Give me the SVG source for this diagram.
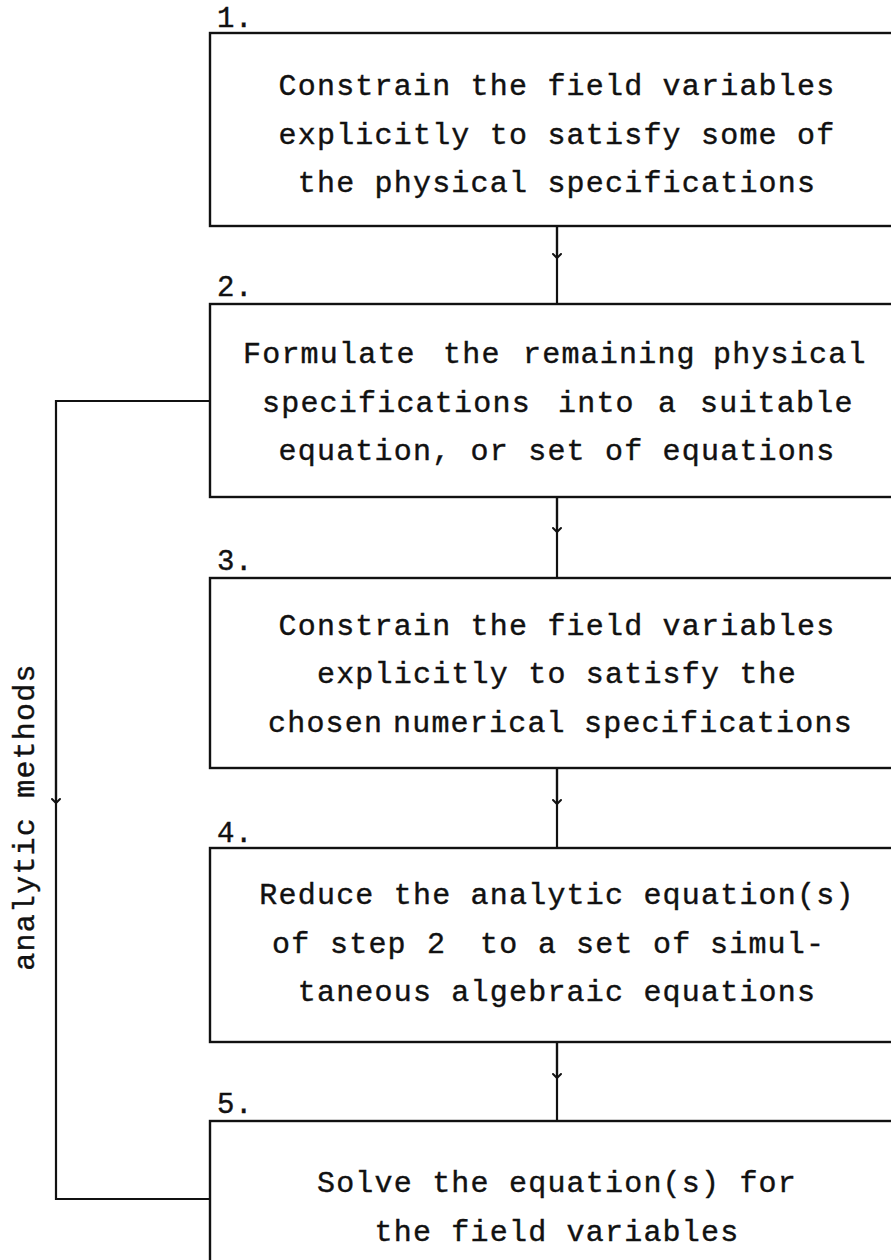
<svg xmlns="http://www.w3.org/2000/svg" width="891" height="1260" viewBox="0 0 891 1260">
  <defs>
    <style>
      .box { fill: none; stroke: #111; stroke-width: 2.4; }
      .wire { fill: none; stroke: #111; stroke-width: 2.2; }
      .tip { fill: none; stroke: #111; stroke-width: 2; stroke-linecap: round; stroke-linejoin: round; }
      .t { font-family: "Liberation Mono", "Courier New", monospace; font-size: 30px; letter-spacing: 1.2px; fill: #111; stroke: #111; stroke-width: 0.4; }
      .c { text-anchor: middle; }
      .num { font-family: "Liberation Mono", "Courier New", monospace; font-size: 29px; letter-spacing: 0.5px; fill: #111; stroke: #111; stroke-width: 0.4; }
    </style>
    <marker id="chev" viewBox="-6 -6 12 12" markerWidth="12" markerHeight="12" markerUnits="userSpaceOnUse" orient="auto">
      <path class="tip" d="M-4,-4 L0,0 L-4,4"/>
    </marker>
  </defs>
  <rect width="891" height="1260" fill="#fff"/>

  <!-- connectors -->
  <g id="connectors">
    <path class="wire" d="M557,226 V304" />
    <path class="wire" d="M557,226 V258" marker-end="url(#chev)"/>
    <path class="wire" d="M557,497 V578" />
    <path class="wire" d="M557,497 V532" marker-end="url(#chev)"/>
    <path class="wire" d="M557,768 V848" />
    <path class="wire" d="M557,768 V804" marker-end="url(#chev)"/>
    <path class="wire" d="M557,1042 V1121" />
    <path class="wire" d="M557,1042 V1078" marker-end="url(#chev)"/>
    <!-- bypass loop: step 2 straight to step 5 -->
    <path class="wire" d="M210,401 H56 V1199 H210" />
    <path class="wire" d="M56,700 V803" marker-end="url(#chev)"/>
    <text class="t c" transform="translate(34,817) rotate(-90)">analytic methods</text>
  </g>

  <g id="step1">
    <text class="num" x="217" y="27">1.</text>
    <rect class="box" x="210" y="33" width="700" height="193"/>
    <text class="t c" x="557" y="95">Constrain the field variables</text>
    <text class="t c" x="557" y="144">explicitly to satisfy some of</text>
    <text class="t c" x="557" y="192">the physical specifications</text>
  </g>

  <g id="step2">
    <text class="num" x="217" y="296">2.</text>
    <rect class="box" x="210" y="304" width="700" height="193"/>
    <text class="t" y="363"><tspan x="243">Formulate</tspan><tspan x="443">the</tspan><tspan x="523">remaining</tspan><tspan x="713">physical</tspan></text>
    <text class="t" y="412"><tspan x="262">specifications</tspan><tspan x="558">into</tspan><tspan x="658">a</tspan><tspan x="700">suitable</tspan></text>
    <text class="t c" x="557" y="460">equation, or set of equations</text>
  </g>

  <g id="step3">
    <text class="num" x="217" y="570">3.</text>
    <rect class="box" x="210" y="578" width="700" height="190"/>
    <text class="t c" x="557" y="635">Constrain the field variables</text>
    <text class="t c" x="557" y="683">explicitly to satisfy the</text>
    <text class="t" y="732"><tspan x="268">chosen</tspan><tspan x="393">numerical</tspan><tspan x="584">specifications</tspan></text>
  </g>

  <g id="step4">
    <text class="num" x="217" y="842">4.</text>
    <rect class="box" x="210" y="848" width="700" height="194"/>
    <text class="t c" x="557" y="904">Reduce the analytic equation(s)</text>
    <text class="t" y="953"><tspan x="272">of</tspan><tspan x="330">step</tspan><tspan x="427">2</tspan><tspan x="480">to</tspan><tspan x="538">a</tspan><tspan x="576">set</tspan><tspan x="653">of</tspan><tspan x="710">simul-</tspan></text>
    <text class="t c" x="557" y="1001">taneous algebraic equations</text>
  </g>

  <g id="step5">
    <text class="num" x="217" y="1113">5.</text>
    <rect class="box" x="210" y="1121" width="700" height="200"/>
    <text class="t c" x="557" y="1192">Solve the equation(s) for</text>
    <text class="t c" x="557" y="1241">the field variables</text>
  </g>
</svg>
